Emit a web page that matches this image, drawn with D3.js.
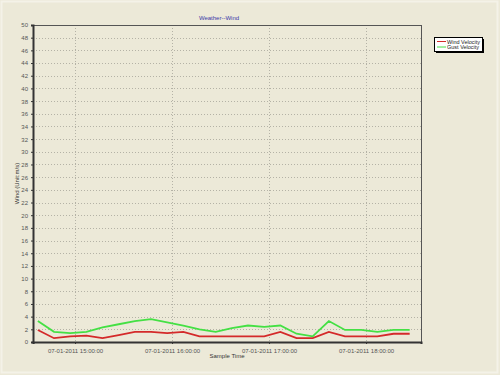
<!DOCTYPE html>
<html>
<head>
<meta charset="utf-8">
<script src="https://cdn.jsdelivr.net/npm/d3@7"></script>
<style>
  body { margin: 0; background: #ece9d8; }
  svg { display: block; font-family: "Liberation Sans", Arial, sans-serif; }
</style>
</head>
<body>
<svg id="chart" width="500" height="375"></svg>
<script>
// sample times, every 10 minutes
const sampleTimes = ['14:37','14:47','14:57','15:07','15:17','15:27','15:37','15:47','15:57','16:07',
  '16:17','16:27','16:37','16:47','16:57','17:07','17:17','17:27','17:37','17:47','17:57','18:07','18:17','18:27'];
const windVelocity = [1.9,0.6,0.9,1.0,0.6,1.1,1.6,1.6,1.4,1.6,0.9,0.9,0.9,0.9,0.9,1.6,0.6,0.6,1.6,0.9,0.9,0.9,1.3,1.3];
const gustVelocity = [3.3,1.6,1.4,1.6,2.3,2.8,3.3,3.6,3.1,2.6,2.0,1.6,2.2,2.6,2.4,2.6,1.3,0.9,3.3,1.9,1.9,1.6,1.9,1.9];
const xTicks = ['15:00','16:00','17:00','18:00'];
const seriesNames = ['Wind Velocity', 'Gust Velocity'];
const seriesColors = ['#d42a2a', '#44e044'];

const parse = t => d3.timeParse('%Y-%m-%d %H:%M')('2011-07-01 ' + t);
const fmt = d3.timeFormat('%m-%d-%Y %H:%M:%S');

const margin = { top: 25, right: 79, bottom: 33, left: 33 };
const width = 500 - margin.left - margin.right;
const height = 375 - margin.top - margin.bottom;

const svg = d3.select('#chart');

// outer frame
svg.append('rect')
  .attr('x', 1.5).attr('y', 1.5)
  .attr('width', 496).attr('height', 371)
  .attr('fill', 'none')
  .attr('stroke', '#f4f2e8')
  .attr('stroke-width', 2);

const g = svg.append('g')
  .attr('transform', 'translate(' + margin.left + ',' + margin.top + ')');

const x = d3.scaleTime()
  .domain([parse('14:34'), parse('18:34')])
  .range([0, width]);
const y = d3.scaleLinear().domain([0, 50]).range([height, 0]);

// grid
g.append('g')
  .selectAll('line')
  .data(d3.range(2, 50, 2))
  .enter().append('line')
  .attr('x1', 0).attr('x2', width)
  .attr('y1', d => Math.round(y(d)) + 0.5).attr('y2', d => Math.round(y(d)) + 0.5)
  .attr('stroke', '#b4b2a6')
  .attr('stroke-dasharray', '1,2');

g.append('g')
  .selectAll('line')
  .data(xTicks)
  .enter().append('line')
  .attr('x1', d => Math.round(x(parse(d))) + 0.5).attr('x2', d => Math.round(x(parse(d))) + 0.5)
  .attr('y1', 0).attr('y2', height)
  .attr('stroke', '#b4b2a6')
  .attr('stroke-dasharray', '1,2');

// frame of plot
g.append('rect')
  .attr('x', 0.5).attr('y', 0.5)
  .attr('width', width).attr('height', height)
  .attr('fill', 'none')
  .attr('stroke', '#555')
  .attr('stroke-width', 1);

// y axis
const yAxis = g.append('g')
  .call(d3.axisLeft(y).tickValues(d3.range(0, 51, 2)).tickSize(2).tickPadding(3));
yAxis.select('.domain').attr('stroke', '#333').attr('stroke-width', 2);
yAxis.selectAll('.tick line').attr('stroke', '#333');
yAxis.selectAll('.tick text').style('font-size', '6px').attr('fill', '#555');

// x axis
const xAxis = g.append('g')
  .attr('transform', 'translate(0,' + height + ')')
  .call(d3.axisBottom(x).tickValues(xTicks.map(parse)).tickFormat(fmt).tickSize(2).tickPadding(5));
xAxis.select('.domain').attr('stroke', '#333').attr('stroke-width', 2);
xAxis.selectAll('.tick line').attr('stroke', '#333');
xAxis.selectAll('.tick text').style('font-size', '6px').attr('fill', '#555');

// axis titles
svg.append('text')
  .attr('x', 219).attr('y', 20)
  .attr('text-anchor', 'middle')
  .style('font-size', '6px')
  .attr('fill', '#3a3aa8')
  .text('Weather--Wind');

svg.append('text')
  .attr('x', 227).attr('y', 358)
  .attr('text-anchor', 'middle')
  .style('font-size', '6px')
  .attr('fill', '#333')
  .text('Sample Time');

svg.append('text')
  .attr('transform', 'translate(19,' + (margin.top + height / 2) + ') rotate(-90)')
  .attr('text-anchor', 'middle')
  .style('font-size', '6px')
  .attr('fill', '#333')
  .text('Wind (Unit:m/s)');

// lines
const line = d3.line()
  .x((d, i) => x(parse(sampleTimes[i])))
  .y(d => y(d));

[windVelocity, gustVelocity].forEach((s, i) => {
  g.append('path')
    .datum(s)
    .attr('d', line)
    .attr('fill', 'none')
    .attr('stroke', seriesColors[i])
    .attr('stroke-width', 1.8);
});

// legend
const lg = svg.append('g').attr('transform', 'translate(434,37)');
lg.append('rect')
  .attr('x', 2).attr('y', 2).attr('width', 48).attr('height', 14)
  .attr('fill', '#000');
lg.append('rect')
  .attr('x', 0.5).attr('y', 0.5).attr('width', 48).attr('height', 14)
  .attr('fill', '#fff').attr('stroke', '#000');
seriesNames.forEach((n, i) => {
  lg.append('line')
    .attr('x1', 3).attr('x2', 12)
    .attr('y1', 4.5 + i * 5.5).attr('y2', 4.5 + i * 5.5)
    .attr('stroke', seriesColors[i]);
  lg.append('text')
    .attr('x', 13).attr('y', 6.5 + i * 5.5)
    .style('font-size', '5.5px')
    .attr('fill', '#222')
    .text(n);
});
</script>
</body>
</html>
